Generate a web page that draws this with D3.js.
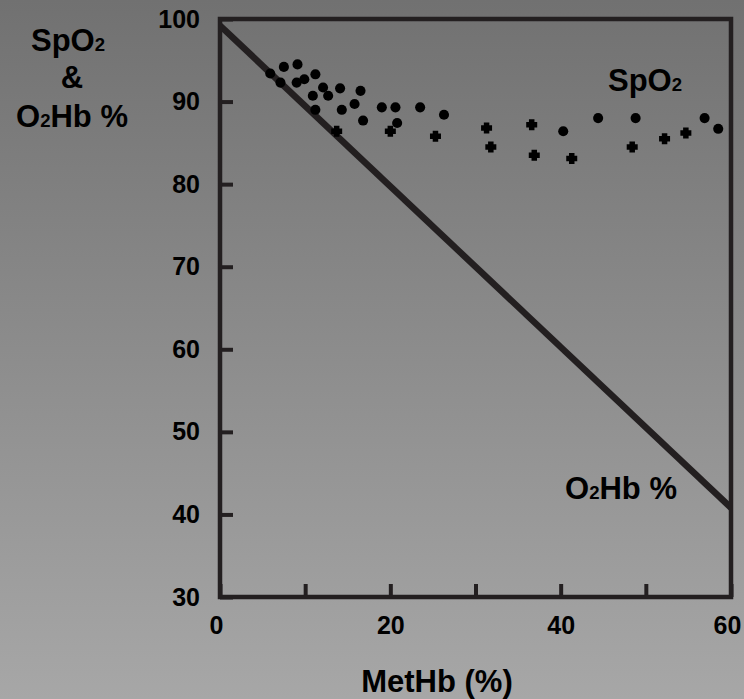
<!DOCTYPE html>
<html>
<head>
<meta charset="utf-8">
<script src="https://cdn.jsdelivr.net/npm/d3@7"></script>
<style>
  html, body { margin: 0; padding: 0; }
  body { width: 744px; height: 699px; overflow: hidden; }
  svg { display: block; font-family: "Liberation Sans", Arial, Helvetica, sans-serif; font-weight: bold; }
</style>
</head>
<body>
<svg id="chart" width="744" height="699"></svg>
<script>
// ---- data ----
const xTicks = [0, 10, 20, 30, 40, 50, 60];
const xTickLabels = ["0", "", "20", "", "40", "", "60"];
const yTicks = [30, 40, 50, 60, 70, 80, 90, 100];
const yTickLabels = ["30", "40", "50", "60", "70", "80", "90", "100"];

// O2Hb % line (MetHb %, O2Hb %)
const o2hbX = [0, 60];
const o2hbY = [99.2, 40.8];

// SpO2 scatter (MetHb %, SpO2 %), marker type
const spo2X = [5.9, 7.5, 9.1, 7.1, 9.0, 9.9, 11.2, 12.1, 12.7, 10.9, 14.1, 11.2, 14.3, 13.7, 15.8, 16.5, 16.8, 19.0, 20.6, 20.8, 20.0, 23.5, 26.3, 25.3, 31.3, 31.8, 36.6, 36.9, 40.3, 41.3, 44.4, 48.8, 48.4, 52.2, 54.7, 56.9, 58.5];
const spo2Y = [93.4, 94.2, 94.5, 92.3, 92.3, 92.7, 93.3, 91.7, 90.7, 90.7, 91.6, 89.0, 89.0, 86.4, 89.7, 91.3, 87.7, 89.3, 89.3, 87.4, 86.4, 89.3, 88.4, 85.8, 86.8, 84.5, 87.2, 83.5, 86.4, 83.1, 88.0, 88.0, 84.5, 85.5, 86.2, 88.0, 86.7];
const spo2Marker = ["o","o","o","o","o","o","o","o","o","o","o","o","o","+","o","o","o","o","o","o","+","o","o","+","+","+","+","+","o","+","o","o","+","+","+","o","o"];

// ---- layout ----
const svg = d3.select("#chart");
const ink = "#231f20";

const defs = svg.append("defs");
const grad = defs.append("linearGradient").attr("id", "bg").attr("x1", 0).attr("y1", 0).attr("x2", 0).attr("y2", 1);
grad.append("stop").attr("offset", "0%").attr("stop-color", "#717171");
grad.append("stop").attr("offset", "100%").attr("stop-color", "#a7a7a7");
svg.append("rect").attr("width", 744).attr("height", 699).attr("fill", "url(#bg)");

const x = d3.scaleLinear().domain([0, 60]).range([220, 731]);
const y = d3.scaleLinear().domain([30, 100]).range([597, 19]);

defs.append("clipPath").attr("id", "plotclip")
  .append("rect").attr("x", x(0)).attr("y", y(100)).attr("width", x(60) - x(0)).attr("height", y(30) - y(100));

// axes (ticks inside)
const yAxis = d3.axisLeft(y).tickValues(yTicks).tickSize(-13).tickPadding(20)
  .tickFormat((d, i) => yTickLabels[i]);
const gy = svg.append("g").attr("transform", `translate(${x(0)},0)`).call(yAxis);
const xAxis = d3.axisBottom(x).tickValues(xTicks).tickSize(-13).tickPadding(19)
  .tickFormat((d, i) => xTickLabels[i]);
const gx = svg.append("g").attr("transform", `translate(0,${y(30)})`).call(xAxis);

[gx, gy].forEach(g => {
  g.select(".domain").remove();
  g.selectAll(".tick line").attr("stroke", ink).attr("stroke-width", 4);
  g.selectAll(".tick text").attr("fill", "#000").attr("font-size", 25)
    .attr("font-family", "Liberation Sans, Arial, sans-serif").attr("font-weight", "bold");
});
gx.selectAll(".tick text").attr("dx", d => (d === 0 || d === 60) ? -4 : 0);

// O2Hb line
svg.append("path")
  .attr("clip-path", "url(#plotclip)")
  .attr("d", d3.line().x(d => x(d[0])).y(d => y(d[1]))(o2hbX.map((v, i) => [v, o2hbY[i]])))
  .attr("fill", "none").attr("stroke", ink).attr("stroke-width", 6.5);

// frame
svg.append("rect")
  .attr("x", x(0)).attr("y", y(100)).attr("width", x(60) - x(0)).attr("height", y(30) - y(100))
  .attr("fill", "none").attr("stroke", ink).attr("stroke-width", 4.5);

// thick plus marker
const thickPlus = {
  draw(ctx, size) {
    const h = Math.sqrt(size) / 2;   // half total width
    const a = h * 0.5;               // half arm thickness
    ctx.moveTo(-a, -h); ctx.lineTo(a, -h); ctx.lineTo(a, -a); ctx.lineTo(h, -a);
    ctx.lineTo(h, a); ctx.lineTo(a, a); ctx.lineTo(a, h); ctx.lineTo(-a, h);
    ctx.lineTo(-a, a); ctx.lineTo(-h, a); ctx.lineTo(-h, -a); ctx.lineTo(-a, -a);
    ctx.closePath();
  }
};

// SpO2 points
const pts = spo2X.map((v, i) => ({ x: v, y: spo2Y[i], m: spo2Marker[i] }));
svg.append("g").selectAll("path").data(pts).enter().append("path")
  .attr("transform", d => `translate(${x(d.x)},${y(d.y)})`)
  .attr("d", d => d.m === "+" ? d3.symbol(thickPlus, 121)() : d3.symbol(d3.symbolCircle, 80)())
  .attr("fill", "#000");

// labels
function subText(g, parts, size) {
  parts.forEach(p => {
    g.append("tspan").text(p[0]).attr("font-size", p[1] ? size * 0.6 : size);
  });
}
const fs = 31;
const t1 = svg.append("text").attr("x", 608).attr("y", 91).attr("font-size", fs).attr("fill", "#000");
subText(t1, [["SpO", false], ["2", true]], fs);
const t2 = svg.append("text").attr("x", 565).attr("y", 499).attr("font-size", fs).attr("fill", "#000");
subText(t2, [["O", false], ["2", true], ["Hb %", false]], fs);

const yl1 = svg.append("text").attr("x", 68).attr("y", 51).attr("text-anchor", "middle").attr("font-size", fs).attr("fill", "#000");
subText(yl1, [["SpO", false], ["2", true]], fs);
svg.append("text").attr("x", 72).attr("y", 88).attr("text-anchor", "middle").attr("font-size", fs).attr("fill", "#000").text("&");
const yl3 = svg.append("text").attr("x", 72).attr("y", 127).attr("text-anchor", "middle").attr("font-size", fs).attr("fill", "#000");
subText(yl3, [["O", false], ["2", true], ["Hb %", false]], fs);

svg.append("text").attr("x", 437).attr("y", 692).attr("text-anchor", "middle").attr("font-size", fs).attr("fill", "#000").text("MetHb (%)");
</script>
</body>
</html>
